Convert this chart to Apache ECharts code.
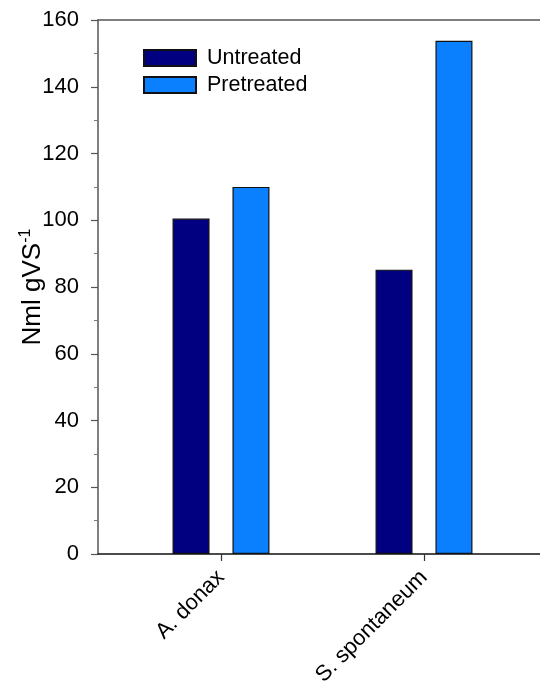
<!DOCTYPE html>
<html>
<head>
<meta charset="utf-8">
<script src="https://cdn.jsdelivr.net/npm/echarts@6/dist/echarts.min.js"></script>
<style>
  html, body { margin: 0; padding: 0; background: #fff; }
  #chart { width: 540px; height: 692px; }
</style>
</head>
<body>
<div id="chart"></div>
<script>
// Biomethane yield per substrate, untreated vs pretreated
const categories = ['A. donax', 'S. spontaneum'];
const untreated = [100.5, 85.2];
const pretreated = [110, 153.8];
const yTicks = { min: 0, max: 160, interval: 20 };

const FONT = '"Liberation Sans", Arial, sans-serif';

const chart = echarts.init(document.getElementById('chart'));

const option = {
  backgroundColor: '#ffffff',
  textStyle: { fontFamily: FONT },
  grid: [
    // frame grid: holds the left value axis and the top/bottom lines
    { left: 98, top: 20, bottom: 138, right: -40, outerBoundsMode: 'none' },
    // bar grid: category axis for the two substrates
    { left: 119.5, width: 406, top: 20, bottom: 138, outerBoundsMode: 'none' }
  ],
  legend: {
    orient: 'vertical',
    left: 138,
    top: 42,
    itemWidth: 52,
    itemHeight: 16,
    itemGap: 5,
    icon: 'rect',
    textStyle: { fontSize: 21.5, color: '#000', fontFamily: FONT, padding: [0, 0, 0, 6] },
    data: ['Untreated', 'Pretreated']
  },
  xAxis: [
    {
      type: 'category', gridIndex: 0, position: 'bottom', data: [''],
      axisLine: { show: true, lineStyle: { color: '#111', width: 1.5 } },
      axisTick: { show: false }, axisLabel: { show: false }, splitLine: { show: false }
    },
    {
      type: 'category', gridIndex: 0, position: 'top', data: [''],
      axisLine: { show: true, lineStyle: { color: '#555', width: 1.5 } },
      axisTick: { show: false }, axisLabel: { show: false }, splitLine: { show: false }
    },
    {
      type: 'category', gridIndex: 1, data: categories,
      axisLine: { show: false },
      axisTick: { show: true, alignWithLabel: true, length: 7, lineStyle: { color: '#333', width: 1.2 } },
      axisLabel: { rotate: 45, fontSize: 22, color: '#000', margin: 20, fontFamily: FONT },
      splitLine: { show: false }
    }
  ],
  yAxis: [
    {
      type: 'value', gridIndex: 0,
      min: yTicks.min, max: yTicks.max, interval: yTicks.interval,
      name: '{b|Nml gVS}{s|-1}',
      nameLocation: 'middle',
      nameGap: 51,
      nameMoveOverlap: false,
      nameTextStyle: {
        rich: {
          b: { fontSize: 26, color: '#000', fontFamily: FONT },
          s: { fontSize: 16, color: '#000', fontFamily: FONT, verticalAlign: 'top', padding: [0, 0, 13, 0] }
        }
      },
      axisLine: { show: true, lineStyle: { color: '#555', width: 1.5 } },
      axisTick: { show: true, inside: false, length: 7, lineStyle: { color: '#555', width: 1.2 } },
      minorTick: { show: true, splitNumber: 2, length: 4, lineStyle: { color: '#777', width: 1 } },
      axisLabel: { fontSize: 22, color: '#000', margin: 19, fontFamily: FONT },
      splitLine: { show: false }
    },
    {
      type: 'value', gridIndex: 1,
      min: yTicks.min, max: yTicks.max, interval: yTicks.interval,
      show: false
    }
  ],
  series: [
    {
      name: 'Untreated', type: 'bar', xAxisIndex: 2, yAxisIndex: 1,
      data: untreated, barWidth: 37, barGap: '62%',
      itemStyle: { color: '#000080', borderColor: '#111', borderWidth: 1.2 }
    },
    {
      name: 'Pretreated', type: 'bar', xAxisIndex: 2, yAxisIndex: 1,
      data: pretreated, barWidth: 37,
      itemStyle: { color: '#0a80ff', borderColor: '#111', borderWidth: 1.2 }
    }
  ],
  animation: false
};

chart.setOption(option);
</script>
</body>
</html>
